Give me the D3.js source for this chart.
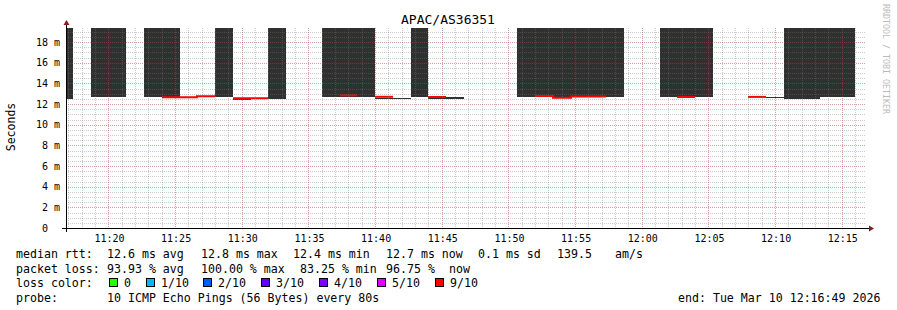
<!DOCTYPE html>
<html>
<head>
<meta charset="utf-8">
<script src="https://cdn.jsdelivr.net/npm/d3@7"></script>
<style>
  body { margin: 0; background: #fff; }
  svg { display: block; }
  text { font-family: "DejaVu Sans Mono", monospace; fill: #000; white-space: pre; }
</style>
</head>
<body>
<svg width="897" height="310"></svg>
<script>
// sample start times (80 s steps)
const SAMPLE_START = [
  '11:16:00', '11:17:20', '11:18:40', '11:20:00', '11:21:20', '11:22:40', '11:24:00', '11:25:20', '11:26:40',
  '11:28:00', '11:29:20', '11:30:40', '11:32:00', '11:33:20', '11:34:40', '11:36:00', '11:37:20', '11:38:40',
  '11:40:00', '11:41:20', '11:42:40', '11:44:00', '11:45:20', '11:46:40', '11:48:00', '11:49:20', '11:50:40',
  '11:52:00', '11:53:20', '11:54:40', '11:56:00', '11:57:20', '11:58:40', '12:00:00', '12:01:20', '12:02:40',
  '12:04:00', '12:05:20', '12:06:40', '12:08:00', '12:09:20', '12:10:40', '12:12:00', '12:13:20', '12:14:40'
];
const STEP_SEC = 80;

// smoke band (ms), null = nothing drawn; high 20 = above graph top
const SMOKE_LOW = [
  12.48, null, 12.72, 12.72, null, 12.72, 12.72, null, null,
  12.68, 12.45, null, 12.48, null, null, 12.72, 12.72, 12.72,
  12.58, 12.58, 12.68, 12.53, 12.45, null, null, null, 12.72,
  12.72, 12.72, 12.72, 12.72, 12.68, null, null, 12.68, 12.68,
  12.68, null, null, null, 12.63, 12.45, 12.45, 12.68, 12.68
];
const SMOKE_HIGH = [
  20, null, 20, 20, null, 20, 20, null, null,
  20, 12.52, null, 20, null, null, 20, 20, 20,
  12.63, 12.63, 20, 12.60, 12.66, null, null, null, 20,
  20, 20, 20, 20, 20, null, null, 20, 20,
  20, null, null, null, 12.67, 20, 20, 20, 20
];
// median rtt (ms) and lost pings out of 10
const MEDIAN = [
  null, null, null, null, null, null, 12.65, 12.65, 12.76,
  null, 12.56, 12.56, null, null, null, null, 12.84, null,
  12.70, null, null, 12.68, null, null, null, null, null,
  12.77, 12.62, 12.73, 12.73, null, null, null, null, 12.68,
  null, null, null, 12.69, null, null, null, null, null
];
const LOSS = [
  10, 10, 10, 10, 10, 10, 9, 9, 9,
  10, 9, 9, 10, 10, 10, 10, 9, 10,
  9, 10, 10, 9, 10, 10, 10, 10, 10,
  9, 9, 9, 9, 10, 10, 10, 10, 9,
  10, 10, 10, 9, 10, 10, 10, 10, 10
];

const LOSS_LABELS = ['0', '1/10', '2/10', '3/10', '4/10', '5/10', '9/10'];
const LOSS_COLORS = ['#26ff00', '#00b8ff', '#0059ff', '#5e00ff', '#7e00ff', '#dd00ff', '#ff0000'];
const LOSS_COUNTS = [0, 1, 2, 3, 4, 5, 9];

const Y_TICKS = [0, 2, 4, 6, 8, 10, 12, 14, 16, 18];

const T = s => new Date(`2026-03-10T${s}`);
const START = T('11:16:49'), END = T('12:16:49');

const PLOT = { left: 66, right: 866, top: 28, bottom: 228 };
const svg = d3.select('svg');

const x = d3.scaleTime().domain([START, END]).range([PLOT.left, PLOT.right]);
const y = d3.scaleLinear().domain([0, 19.36]).range([PLOT.bottom, PLOT.top]);
const px = v => Math.round(v) + 0.5;

svg.append('rect').attr('width', 897).attr('height', 310).attr('fill', '#fff');

svg.append('clipPath').attr('id', 'plot')
  .append('rect')
  .attr('x', PLOT.left).attr('y', PLOT.top)
  .attr('width', PLOT.right - PLOT.left).attr('height', PLOT.bottom - PLOT.top);

const samples = SAMPLE_START.map((s, i) => ({
  t0: T(s),
  t1: new Date(T(s).getTime() + STEP_SEC * 1000),
  lo: SMOKE_LOW[i], hi: SMOKE_HIGH[i], med: MEDIAN[i], loss: LOSS[i]
}));

const chart = svg.append('g').attr('clip-path', 'url(#plot)');

// smoke
chart.selectAll('.smoke')
  .data(samples.filter(d => d.lo != null))
  .enter()
  .append('rect')
  .attr('x', d => Math.round(x(d.t0)))
  .attr('width', d => Math.round(x(d.t1)) - Math.round(x(d.t0)))
  .attr('y', d => Math.round(y(d.hi)))
  .attr('height', d => Math.max(1, Math.round(y(d.lo)) - Math.round(y(d.hi))))
  .attr('fill', '#303030');

// grid
const grid = svg.append('g').attr('shape-rendering', 'crispEdges');
const minorX = d3.timeMinute.every(1).range(START, END);
const majorX = d3.timeMinute.every(5).range(START, END);
const minorY = d3.range(0.5, 19.36, 0.5);
const majorY = Y_TICKS.filter(v => v > 0);
const MINOR = 'rgba(120,120,120,0.38)', MAJOR = 'rgba(255,0,0,0.22)';

grid.selectAll('.vmin').data(minorX).enter().append('line')
  .attr('x1', d => px(x(d))).attr('x2', d => px(x(d)))
  .attr('y1', PLOT.top).attr('y2', PLOT.bottom)
  .attr('stroke', MINOR).attr('stroke-dasharray', '1,1');
grid.selectAll('.hmin').data(minorY).enter().append('line')
  .attr('x1', PLOT.left).attr('x2', PLOT.right)
  .attr('y1', d => px(y(d))).attr('y2', d => px(y(d)))
  .attr('stroke', MINOR).attr('stroke-dasharray', '1,1');
grid.selectAll('.vmaj').data(majorX).enter().append('line')
  .attr('x1', d => px(x(d))).attr('x2', d => px(x(d)))
  .attr('y1', PLOT.top).attr('y2', PLOT.bottom)
  .attr('stroke', MAJOR).attr('stroke-dasharray', '1,1');
grid.selectAll('.hmaj').data(majorY).enter().append('line')
  .attr('x1', PLOT.left).attr('x2', PLOT.right)
  .attr('y1', d => px(y(d))).attr('y2', d => px(y(d)))
  .attr('stroke', MAJOR).attr('stroke-dasharray', '1,1');

// median lines, one path per run of equal loss
const lossColor = n => LOSS_COLORS[LOSS_COUNTS.indexOf(n)] || '#ff0000';
const runs = [];
samples.forEach((d, i) => {
  if (d.med == null) return;
  const prev = samples[i - 1];
  if (prev && prev.med != null && prev.loss === d.loss) runs[runs.length - 1].push(d);
  else runs.push([d]);
});
const stepLine = d3.line().curve(d3.curveStepAfter).x(p => Math.round(x(p.t))).y(p => y(p.v));
runs.forEach(run => {
  const pts = run.map(d => ({ t: d.t0, v: d.med }));
  pts.push({ t: run[run.length - 1].t1, v: run[run.length - 1].med });
  chart.append('path')
    .attr('d', stepLine(pts))
    .attr('fill', 'none')
    .attr('stroke', lossColor(run[0].loss))
    .attr('stroke-width', 2);
});

// axes
svg.append('line').attr('x1', 62).attr('x2', 870).attr('y1', 228.5).attr('y2', 228.5).attr('stroke', '#000');
svg.append('line').attr('x1', 66.5).attr('x2', 66.5).attr('y1', 232).attr('y2', 24).attr('stroke', '#000');
svg.append('path').attr('d', 'M869,225.5 L874,228.5 L869,231.5 Z').attr('fill', '#8b1a1a');
svg.append('path').attr('d', 'M63.5,25 L66.5,20 L69.5,25 Z').attr('fill', '#8b1a1a');

// y tick labels
svg.selectAll('.ylab').data(Y_TICKS).enter().append('text')
  .attr('x', 60).attr('y', d => y(d) + 3.5)
  .attr('text-anchor', 'end')
  .style('font-size', '10px')
  .text(d => d === 0 ? '0  ' : `${d} m`);

// x tick labels
svg.selectAll('.xlab').data(majorX).enter().append('text')
  .attr('x', d => x(d) + 1).attr('y', 242)
  .attr('text-anchor', 'middle')
  .style('font-size', '10px')
  .text(d3.timeFormat('%H:%M'));

// title and side texts
svg.append('text').attr('x', 448).attr('y', 24).attr('text-anchor', 'middle')
  .style('font-size', '13px').text('APAC/AS36351');
svg.append('text').attr('transform', 'translate(15,127) rotate(-90)').attr('text-anchor', 'middle')
  .style('font-size', '11.5px').text('Seconds');
svg.append('text').attr('transform', 'translate(883,4) rotate(90)')
  .style('font-size', '8.3px').style('fill', '#bbb').text('RRDTOOL / TOBI OETIKER');

// legend
const FS = '11.6px';
const legendRows = [
  [[16, 'median rtt:'], [107, '12.6 ms avg'], [201, '12.8 ms max'], [293, '12.4 ms min'], [386, '12.7 ms now'], [478, '0.1 ms sd'], [557, '139.5'], [615, 'am/s']],
  [[16, 'packet loss:'], [107, '93.93 % avg'], [201, '100.00 % max'], [300, '83.25 % min'], [386, '96.75 %'], [449, 'now']],
  [[16, 'loss color:']],
  [[16, 'probe:'], [107, '10 ICMP Echo Pings (56 Bytes) every 80s'], [678, 'end: Tue Mar 10 12:16:49 2026']]
];
const rowY = [258, 272.5, 287, 301.5];
legendRows.forEach((row, r) => {
  row.forEach(([lx, txt]) => {
    svg.append('text').attr('x', lx).attr('y', rowY[r]).style('font-size', FS).text(txt);
  });
});
const swatchX = [109, 146, 203, 261, 319, 377, 435];
LOSS_LABELS.forEach((lab, i) => {
  svg.append('rect').attr('x', swatchX[i] + 0.5).attr('y', 278.5).attr('width', 8).attr('height', 8)
    .attr('fill', LOSS_COLORS[i]).attr('stroke', '#000');
  svg.append('text').attr('x', swatchX[i] + 15).attr('y', rowY[2]).style('font-size', FS).text(lab);
});
</script>
</body>
</html>
